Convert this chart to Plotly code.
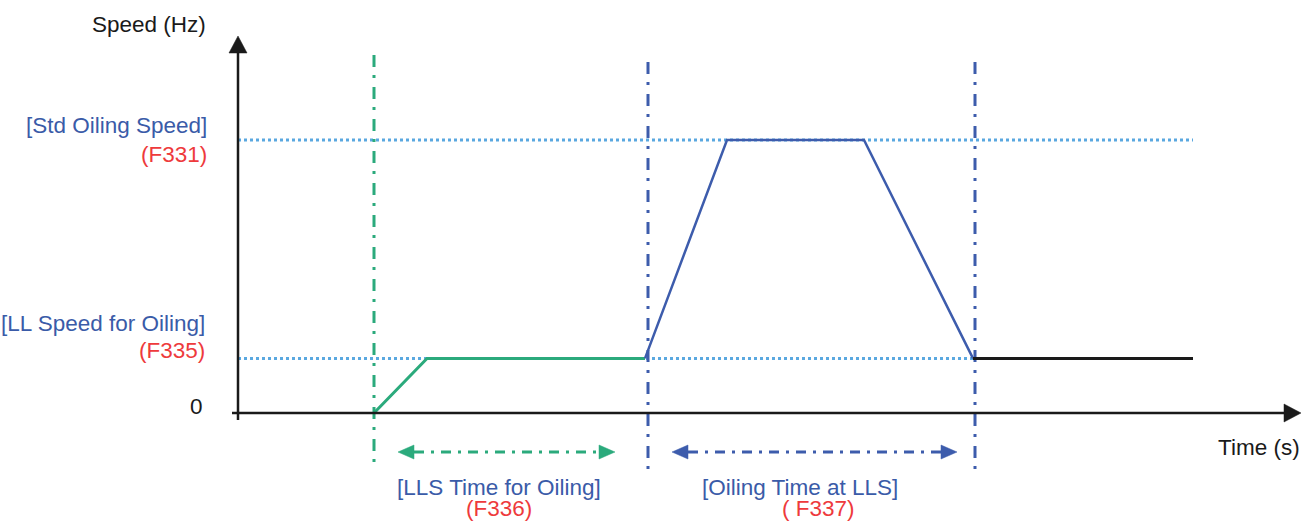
import plotly.graph_objects as go

# ---------------- data (schematic units: time in s, speed in Hz) ----------------
ll_speed = 10          # [LL Speed for Oiling] (F335)
std_speed = 50         # [Std Oiling Speed] (F331)

green_t = [13.6, 18.9, 40.7]        # ramp to LL speed, hold at LL speed
green_s = [0, ll_speed, ll_speed]
blue_t = [40.7, 48.9, 62.6, 73.5]   # ramp up to std oiling speed, hold, ramp down
blue_s = [ll_speed, std_speed, std_speed, ll_speed]
black_t = [73.5, 95.5]              # back at LL speed
black_s = [ll_speed, ll_speed]

phase_t = [13.6, 41.0, 73.7]        # phase boundaries (vertical dash-dot markers)
green_span = [16.0, 37.7]           # [LLS Time for Oiling] arrow
blue_span = [43.4, 71.9]            # [Oiling Time at LLS] arrow
ref_end_t = 95.5                    # end of dotted reference lines

# ---------------- geometry of the drawing ----------------
W, H = 1301, 522
X0, XS = 238, 10.0     # pixel of t=0, pixels per second
Y0, YS = 413, 5.46     # pixel of s=0, pixels per Hz


def t_of(px):
    return (px - X0) / XS


def s_of(py):
    return (Y0 - py) / YS


GREEN = "#2BAA7C"
BLUE = "#3D5CAC"
LIGHTBLUE = "#5AA8E0"
RED = "#EE3A3C"
TXTBLUE = "#3A5BA8"
BLACK = "#1A1A1A"
FONT = "Liberation Sans, Arial, sans-serif"
FS = 22.5

fig = go.Figure()


def line(xs, ys, color, width, dash="solid"):
    fig.add_trace(go.Scatter(x=xs, y=ys, mode="lines",
                             line=dict(color=color, width=width, dash=dash),
                             hoverinfo="skip", showlegend=False))


def tri(pts, color):
    xs = [p[0] for p in pts] + [pts[0][0]]
    ys = [p[1] for p in pts] + [pts[0][1]]
    fig.add_trace(go.Scatter(x=xs, y=ys, mode="lines", fill="toself",
                             fillcolor=color, line=dict(color=color, width=0.5),
                             hoverinfo="skip", showlegend=False))


# dotted reference levels
line([0, ref_end_t], [std_speed, std_speed], LIGHTBLUE, 3, "3px,3px")
line([0, ref_end_t], [ll_speed, ll_speed], LIGHTBLUE, 3, "3px,3px")

# vertical phase markers
VDASH = "12px,8px,3px,9px"
line([phase_t[0], phase_t[0]], [s_of(55), s_of(470)], GREEN, 3, VDASH)
for t in phase_t[1:]:
    line([t, t], [s_of(62), s_of(470)], BLUE, 3, VDASH)

# speed profile
line(green_t, green_s, GREEN, 3)
line(blue_t, blue_s, BLUE, 2.5)
line(black_t, black_s, BLACK, 3)

# duration arrows
ya = s_of(452)
AL, AH = 16 / XS, 7 / YS
HDASH = "10px,7px,3px,7px"
for span, col in ((green_span, GREEN), (blue_span, BLUE)):
    line([span[0] + AL, span[1] - AL], [ya, ya], col, 3, HDASH)
    tri([(span[0], ya), (span[0] + AL, ya + AH), (span[0] + AL, ya - AH)], col)
    tri([(span[1], ya), (span[1] - AL, ya + AH), (span[1] - AL, ya - AH)], col)

# axes with arrowheads
line([t_of(232), t_of(1285)], [0, 0], BLACK, 2.5)
tri([(t_of(1301), 0), (t_of(1284), s_of(404)), (t_of(1284), s_of(422))], BLACK)
line([0, 0], [s_of(420), s_of(52)], BLACK, 2.5)
tri([(0, s_of(36)), (t_of(229), s_of(53)), (t_of(247), s_of(53))], BLACK)

# ---------------- text ----------------
labels = [
    ("Speed (Hz)", 207, 25, "right", BLACK),
    ("[Std Oiling Speed]", 208, 125, "right", TXTBLUE),
    ("(F331)", 208, 154, "right", RED),
    ("[LL Speed for Oiling]", 206, 323, "right", TXTBLUE),
    ("(F335)", 206, 350, "right", RED),
    ("0", 204, 406, "right", BLACK),
    ("Time (s)", 1301, 447, "right", BLACK),
    ("[LLS Time for Oiling]", 499, 487, "center", TXTBLUE),
    ("(F336)", 499, 508, "center", RED),
    ("[Oiling Time at LLS]", 800, 487, "center", TXTBLUE),
    ("( F337)", 818, 508, "center", RED),
]
for text, px, py, anchor, col in labels:
    fig.add_annotation(x=px / W, y=1 - py / H, xref="paper", yref="paper",
                       text=text, showarrow=False, xanchor=anchor, yanchor="middle",
                       borderpad=0,
                       font=dict(family=FONT, size=FS, color=col))

fig.update_layout(
    width=W, height=H,
    margin=dict(l=0, r=0, t=0, b=0),
    paper_bgcolor="white", plot_bgcolor="white",
    xaxis=dict(visible=False, range=[t_of(0), t_of(W)], fixedrange=True),
    yaxis=dict(visible=False, range=[s_of(H), s_of(0)], fixedrange=True),
    showlegend=False,
)

fig.write_html(
    "out.html",
    config={"displayModeBar": False},
    post_script="document.body.style.margin='0';document.body.style.overflow='hidden';",
)
